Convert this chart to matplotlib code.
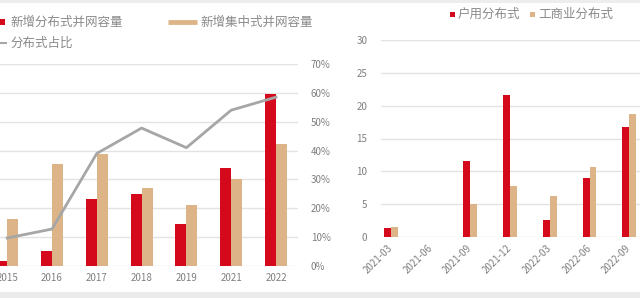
import matplotlib
matplotlib.use("Agg")
import matplotlib.pyplot as plt
from matplotlib.patches import Rectangle
from matplotlib.lines import Line2D
import numpy as np

plt.rcParams['font.family'] = ['Noto Sans CJK SC', 'DejaVu Sans']

# ---- data: left chart (annual) ----
years = ['2015', '2016', '2017', '2018', '2019', '2021', '2022']
dist_new = [1.5, 4.4, 19.8, 21.3, 12.4, 29.2, 51.1]        # 新增分布式并网容量
central_new = [13.9, 30.4, 33.4, 23.3, 18.0, 25.7, 36.3]    # 新增集中式并网容量
dist_share = [9.7, 12.8, 39.0, 47.8, 41.0, 54.0, 58.5]      # 分布式占比 (%)
pct_ticks = [0, 10, 20, 30, 40, 50, 60, 70]

# ---- data: right chart (quarterly) ----
quarters = ['2021-03', '2021-06', '2021-09', '2021-12', '2022-03', '2022-06', '2022-09', '2022-12']
household = [1.3, 0.0, 11.5, 21.6, 2.6, 9.0, 16.7]           # 户用分布式
commercial = [1.5, 0.0, 5.0, 7.7, 6.3, 10.7, 18.7]           # 工商业分布式
right_ticks = [0, 5, 10, 15, 20, 25, 30]

RED = '#D40A1C'
TAN = '#DDB488'
GRAY_LINE = '#A6A6A6'
GRID = '#E3E3E3'
TXT = '#7F7F7F'
LEG_TXT = '#8A8A8A'

W, H = 640, 298
fig = plt.figure(figsize=(W / 100, H / 100), dpi=100)
fig.patch.set_facecolor('white')

def px_axes(x0, y_top, w, h):
    # x0 from left, y_top from top (pixels)
    return fig.add_axes([x0 / W, (H - y_top - h) / H, w / W, h / H])

# light frame bands
fig.add_artist(Rectangle((0, 1 - 3 / H), 1, 3 / H, transform=fig.transFigure,
                         facecolor='#EDEDED', edgecolor='none', zorder=-5))
fig.add_artist(Rectangle((0, 0), 1, 6 / H, transform=fig.transFigure,
                         facecolor='#EBEBEB', edgecolor='none', zorder=-5))

# ================= left chart =================
sp = 44.8
axL = px_axes(7.2 - 0.5 * sp, 64, 7 * sp, 202)
x = np.arange(len(years))
bw = 0.245
axL.bar(x - bw / 2, dist_new, bw, color=RED, zorder=3)
axL.bar(x + bw / 2, central_new, bw, color=TAN, zorder=3)
axL.set_xlim(-0.5, len(years) - 0.5)
axL.set_ylim(0, 60)
axL.set_yticks([])
axL.set_xticks(x)
axL.set_xticklabels(years)
axL.tick_params(axis='x', length=0, pad=5, labelsize=7, labelcolor=TXT)
for s in axL.spines.values():
    s.set_visible(False)
for v in pct_ticks:
    axL.axhline(v * 60 / 70, color=GRID, lw=1, zorder=1)

axR = axL.twinx()
axR.plot(x, dist_share, color=GRAY_LINE, lw=2, zorder=4)
axR.set_ylim(0, 70)
axR.set_yticks(pct_ticks)
axR.set_yticklabels([f'{v}%' for v in pct_ticks])
axR.tick_params(axis='y', length=0, pad=9, labelsize=7, labelcolor=TXT)
for s in axR.spines.values():
    s.set_visible(False)
axL.set_zorder(1)
axR.set_zorder(2)
axR.patch.set_visible(False)

# legends (manual placement)
def frect(x0, ytop, w, h, color):
    fig.add_artist(Rectangle((x0 / W, (H - ytop - h) / H), w / W, h / H,
                             transform=fig.transFigure, facecolor=color, edgecolor='none'))

def fline(x0, x1, y, color, lw):
    fig.add_artist(Line2D([x0 / W, x1 / W], [(H - y) / H] * 2, transform=fig.transFigure,
                          color=color, lw=lw, solid_capstyle='butt'))

def ftext(x0, y, s):
    fig.text(x0 / W, (H - y) / H, s, fontsize=9, color=LEG_TXT, va='center', ha='left')

frect(-1, 19, 6, 6, RED)
ftext(10, 22, '新增分布式并网容量')
fline(168, 197, 22, TAN, 3.5)
ftext(200, 22, '新增集中式并网容量')
fline(0, 7, 43, GRAY_LINE, 1.5)
ftext(10, 43, '分布式占比')

# ================= right chart =================
sp2 = 39.7
axQ = px_axes(391 - 0.25 * sp2, 40, 7.75 * sp2, 197)
xq = np.arange(len(quarters))
bw2 = 0.176
xd = np.arange(len(household))
axQ.bar(xd - bw2 / 2, household, bw2, color=RED, zorder=3)
axQ.bar(xd + bw2 / 2, commercial, bw2, color=TAN, zorder=3)
axQ.set_xlim(-0.25, 7.5)
axQ.set_ylim(0, 30)
axQ.set_yticks(right_ticks)
axQ.set_xticks(xq)
axQ.set_xticklabels(quarters, rotation=45, ha='right', va='center', rotation_mode='anchor')
axQ.tick_params(axis='x', length=0, pad=7, labelsize=7, labelcolor=TXT)
axQ.tick_params(axis='y', length=0, pad=10, labelsize=7, labelcolor=TXT)
axQ.grid(axis='y', color=GRID, lw=1, zorder=0)
axQ.set_axisbelow(True)
for s in axQ.spines.values():
    s.set_visible(False)

frect(450, 12, 5, 5, RED)
ftext(458, 14.5, '户用分布式')
frect(530, 12, 5, 5, TAN)
ftext(538, 14.5, '工商业分布式')

fig.savefig('out.png', dpi=100)
